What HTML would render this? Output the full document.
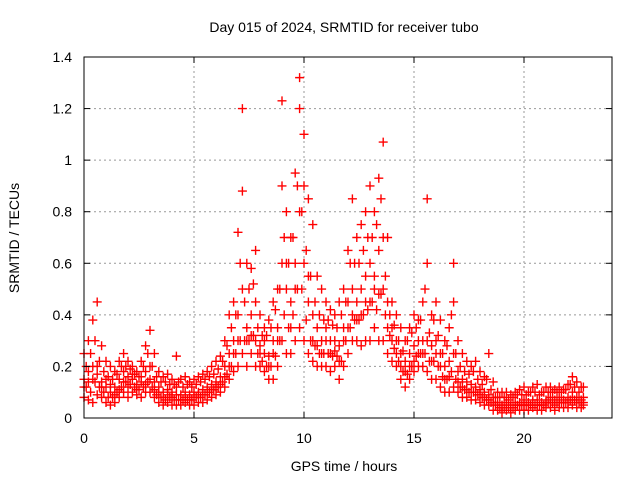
<!DOCTYPE html>
<html><head><meta charset="utf-8"><style>
body{margin:0;background:#fff;}
svg{display:block;font-family:"Liberation Sans",sans-serif;}
</style></head><body>
<svg id="chart" width="640" height="480" viewBox="0 0 640 480">
<rect width="640" height="480" fill="#fff"/>
<g id="grid"></g>
<g id="pts"></g>
<rect x="84" y="57" width="528" height="361" fill="none" stroke="#000" stroke-width="1"/>
<g id="ticks" font-size="14" fill="#000"></g>
<text x="344" y="32" font-size="14" text-anchor="middle">Day 015 of 2024, SRMTID for receiver tubo</text>
<text x="344" y="471" font-size="14" text-anchor="middle">GPS time / hours</text>
<text transform="translate(19,238) rotate(-90)" font-size="14" text-anchor="middle">SRMTID / TECUs</text>
</svg>
<script>
const hours=[0,0.2,0.4,0.6,0.8,1,1.2,1.4,1.6,1.8,2,2.2,2.4,2.6,2.8,3,3.2,3.4,3.6,3.8,4,4.2,4.4,4.6,4.8,5,5.2,5.4,5.6,5.8,6,6.2,6.4,6.6,6.8,7,7.2,7.4,7.6,7.8,8,8.2,8.4,8.6,8.8,9,9.2,9.4,9.6,9.8,10,10.2,10.4,10.6,10.8,11,11.2,11.4,11.6,11.8,12,12.2,12.4,12.6,12.8,13,13.2,13.4,13.6,13.8,14,14.2,14.4,14.6,14.8,15,15.2,15.4,15.6,15.8,16,16.2,16.4,16.6,16.8,17,17.2,17.4,17.6,17.8,18,18.2,18.4,18.6,18.8,19,19.2,19.4,19.6,19.8,20,20.2,20.4,20.6,20.8,21,21.2,21.4,21.6,21.8,22,22.2,22.4,22.6,22.7];
const lowVals=[.08,.07,.06,.09,.08,.06,.05,.06,.08,.1,.08,.1,.09,.08,.1,.1,.08,.06,.05,.06,.05,.05,.05,.06,.05,.05,.06,.06,.07,.08,.09,.1,.12,.15,.18,.2,.25,.2,.25,.2,.2,.18,.15,.15,.2,.3,.25,.25,.3,.35,.3,.25,.22,.2,.2,.2,.18,.2,.15,.2,.25,.3,.3,.28,.3,.3,.35,.3,.3,.25,.22,.2,.15,.12,.15,.18,.2,.2,.18,.15,.15,.12,.1,.1,.12,.1,.08,.08,.07,.07,.06,.05,.05,.03,.03,.02,.03,.02,.03,.03,.03,.03,.04,.03,.03,.04,.04,.03,.04,.04,.04,.05,.04,.04,.05];
const midVals=[.15,.18,.15,.2,.14,.12,.1,.12,.15,.18,.16,.15,.13,.14,.18,.2,.14,.12,.1,.11,.1,.12,.09,.1,.09,.1,.1,.11,.12,.13,.14,.16,.2,.25,.3,.4,.5,.35,.4,.45,.28,.25,.24,.25,.35,.6,.5,.45,.6,.8,.6,.45,.4,.35,.3,.3,.3,.3,.28,.35,.45,.5,.45,.5,.55,.6,.55,.65,.7,.45,.35,.3,.25,.22,.25,.28,.3,.3,.3,.28,.3,.25,.2,.22,.25,.18,.15,.14,.13,.12,.11,.1,.09,.08,.06,.05,.06,.05,.06,.06,.07,.06,.07,.07,.06,.07,.08,.07,.08,.07,.08,.1,.08,.07,.08];
const highVals=[.25,.3,.38,.45,.28,.22,.2,.18,.22,.25,.22,.2,.18,.22,.28,.34,.25,.18,.16,.17,.15,.24,.15,.16,.14,.15,.16,.17,.18,.2,.22,.24,.3,.4,.45,.72,1.2,.6,.58,.65,.4,.35,.38,.45,.5,1.23,.8,.7,.95,1.32,1.1,.85,.75,.55,.5,.45,.42,.4,.45,.5,.65,.85,.7,.75,.8,.9,.8,.93,1.07,.7,.45,.4,.35,.3,.35,.4,.38,.45,.85,.4,.45,.38,.3,.35,.6,.3,.25,.22,.2,.22,.18,.16,.25,.14,.1,.1,.1,.09,.1,.11,.12,.1,.12,.13,.1,.12,.12,.11,.12,.11,.13,.16,.14,.12,.12];
const extraVals=[.12,.14,.2,.17,.12,.15,.13,.09,.11,.14,.12,.17,.11,.16,.13,.15,.11,.1,.08,.09,.08,.09,.07,.08,.07,.08,.09,.09,.1,.11,.12,.13,.16,.2,.25,.3,.88,.3,.32,.3,.25,.3,.2,.3,.3,.9,.6,.35,.5,1.2,.9,.55,.3,.28,.25,.35,.25,.26,.22,.3,.35,.4,.38,.4,.45,.45,.5,.48,.5,.35,.3,.25,.2,.18,.2,.22,.25,.25,.6,.22,.25,.2,.15,.16,.45,.14,.12,.11,.1,.1,.09,.08,.07,.06,.05,.04,.05,.04,.05,.05,.05,.05,.06,.05,.05,.06,.06,.05,.06,.06,.06,.07,.06,.06,.06];
const hoursB=[0.1,0.3,0.5,0.7,0.9,1.1,1.3,1.5,1.7,1.9,2.1,2.3,2.5,2.7,2.9,3.1,3.3,3.5,3.7,3.9,4.1,4.3,4.5,4.7,4.9,5.1,5.3,5.5,5.7,5.9,6.1,6.3,6.5,6.7,6.9,7.1,7.3,7.5,7.7,7.9,8.1,8.3,8.5,8.7,8.9,9.1,9.3,9.5,9.7,9.9,10.1,10.3,10.5,10.7,10.9,11.1,11.3,11.5,11.7,11.9,12.1,12.3,12.5,12.7,12.9,13.1,13.3,13.5,13.7,13.9,14.1,14.3,14.5,14.7,14.9,15.1,15.3,15.5,15.7,15.9,16.1,16.3,16.5,16.7,16.9,17.1,17.3,17.5,17.7,17.9,18.1,18.3,18.5,18.7,18.9,19.1,19.3,19.5,19.7,19.9,20.1,20.3,20.5,20.7,20.9,21.1,21.3,21.5,21.7,21.9,22.1,22.3,22.5];
const q1Vals=[.12,.1,.14,.12,.1,.08,.08,.1,.12,.14,.13,.12,.11,.12,.14,.12,.09,.08,.07,.08,.07,.07,.07,.07,.07,.08,.08,.09,.1,.11,.12,.14,.17,.2,.25,.3,.3,.3,.32,.25,.22,.2,.2,.24,.3,.4,.35,.4,.5,.5,.38,.3,.28,.25,.25,.25,.24,.24,.22,.3,.35,.38,.38,.4,.42,.45,.42,.48,.4,.32,.27,.22,.18,.17,.2,.24,.25,.25,.22,.22,.2,.16,.15,.18,.15,.12,.11,.1,.1,.09,.08,.07,.06,.05,.04,.04,.04,.04,.05,.05,.05,.05,.05,.05,.05,.06,.06,.06,.06,.06,.07,.07,.06];
const q3Vals=[.2,.25,.3,.22,.18,.16,.15,.17,.2,.2,.19,.17,.16,.2,.25,.2,.16,.14,.14,.13,.13,.14,.12,.13,.12,.13,.14,.15,.16,.17,.19,.22,.28,.35,.4,.6,.45,.5,.52,.35,.32,.32,.35,.42,.5,.7,.6,.7,.9,.8,.65,.55,.45,.4,.38,.38,.36,.35,.4,.45,.6,.6,.6,.65,.7,.7,.75,.85,.55,.4,.36,.3,.26,.3,.33,.35,.38,.5,.33,.38,.32,.25,.28,.4,.25,.2,.18,.17,.18,.15,.13,.15,.11,.08,.08,.08,.07,.08,.09,.09,.09,.1,.1,.09,.1,.1,.1,.1,.1,.11,.13,.12,.1];
const xTicks=[0,5,10,15,20];
const yTicks=[0,0.2,0.4,0.6,0.8,1,1.2,1.4];
const yTickLabels=["0","0.2","0.4","0.6","0.8","1","1.2","1.4"];

const X0=84,X1=612,Y0=418,Y1=57,XMAX=24,YMAX=1.4;
const sx=v=>X0+(X1-X0)*v/XMAX;
const sy=v=>Y0-(Y0-Y1)*v/YMAX;
const NS="http://www.w3.org/2000/svg";
const grid=document.getElementById('grid'),ticks=document.getElementById('ticks'),pts=document.getElementById('pts');
function mk(tag,attrs,parent){const e=document.createElementNS(NS,tag);for(const k in attrs)e.setAttribute(k,attrs[k]);parent.appendChild(e);return e;}
xTicks.forEach(t=>{
  const x=sx(t);
  if(t>0){const g=mk('line',{x1:x,x2:x,y1:Y0,y2:Y1,stroke:'#999','stroke-dasharray':'2,3'},grid);
  
  }
  mk('line',{x1:x,x2:x,y1:Y0,y2:Y0-6,stroke:'#000'},ticks);
  mk('line',{x1:x,x2:x,y1:Y1,y2:Y1+6,stroke:'#000'},ticks);
  const l=mk('text',{x:x,y:443,'text-anchor':'middle'},ticks);l.textContent=t;
  
  
});
yTicks.forEach((t,i)=>{
  const y=sy(t);
  if(t>0&&t<YMAX){const g=mk('line',{x1:X0,x2:X1,y1:y,y2:y,stroke:'#999','stroke-dasharray':'2,3'},grid);
  
  }
  mk('line',{x1:X0,x2:X0+6,y1:y,y2:y,stroke:'#000'},ticks);
  mk('line',{x1:X1,x2:X1-6,y1:y,y2:y,stroke:'#000'},ticks);
  const l=mk('text',{x:72,y:y+5,'text-anchor':'end'},ticks);l.textContent=yTickLabels[i];
  
  
});
function plot(times,series){
  series.forEach((v,i)=>{
    const x=sx(times[i]),y=sy(v);
    const p=mk('path',{d:`M${x-4.5},${y}h9M${x},${y-4.5}v9`,stroke:'#f00','stroke-width':1.4,fill:'none'},pts);
    
    
  });
}
[lowVals,midVals,highVals,extraVals].forEach(s=>plot(hours,s));
[q1Vals,q3Vals].forEach(s=>plot(hoursB,s));
</script>
</body></html>
